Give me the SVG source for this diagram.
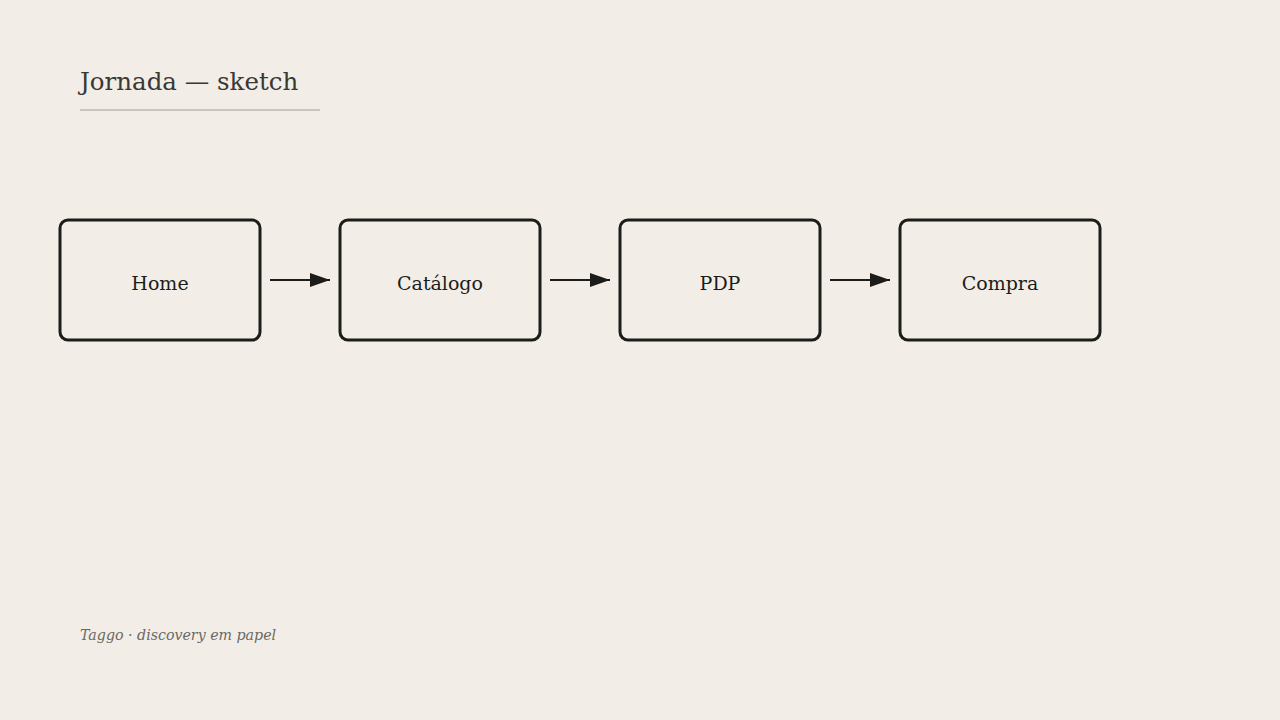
<svg xmlns="http://www.w3.org/2000/svg" width="1280" height="720" viewBox="0 0 1280 720">
<style>
.node rect{fill:#f2eee7;stroke:#1c1c1a;stroke-width:3}
.node text{font-family:"DejaVu Serif","Liberation Serif",serif;font-size:19px;fill:#1c1c1a;text-anchor:middle}
.conn line{stroke:#1c1c1a;stroke-width:2}
</style>
<defs>
<marker id="ah" markerWidth="20" markerHeight="14" refX="20" refY="7" orient="auto" markerUnits="userSpaceOnUse">
<path d="M0,0 L20,7 L0,14 Z" fill="#1c1c1a"/>
</marker>
</defs>
<rect width="1280" height="720" fill="#f2eee7"/>
<text x="80" y="90" font-family="DejaVu Serif, Liberation Serif, serif" font-size="24.5" fill="#3a3835">Jornada — sketch</text>
<line x1="80" y1="110" x2="320" y2="110" stroke="#c8c5bf" stroke-width="2"/>
<g class="conn">
<line x1="270" y1="280" x2="330" y2="280" marker-end="url(#ah)"/>
<line x1="550" y1="280" x2="610" y2="280" marker-end="url(#ah)"/>
<line x1="830" y1="280" x2="890" y2="280" marker-end="url(#ah)"/>
</g>
<g id="home" class="node"><rect x="60" y="220" width="200" height="120" rx="8"/><text x="160" y="290">Home</text></g>
<g id="catalogo" class="node"><rect x="340" y="220" width="200" height="120" rx="8"/><text x="440" y="290">Catálogo</text></g>
<g id="pdp" class="node"><rect x="620" y="220" width="200" height="120" rx="8"/><text x="720" y="290">PDP</text></g>
<g id="compra" class="node"><rect x="900" y="220" width="200" height="120" rx="8"/><text x="1000" y="290">Compra</text></g>
<text x="80" y="640" font-family="DejaVu Serif, Liberation Serif, serif" font-style="italic" font-size="14.2" fill="#6b6863">Taggo · discovery em papel</text>
</svg>
